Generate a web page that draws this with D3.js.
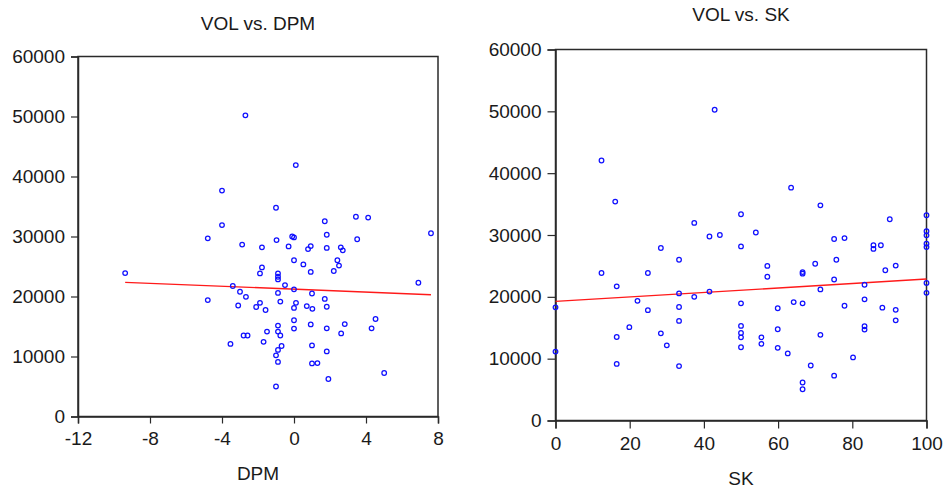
<!DOCTYPE html>
<html>
<head>
<meta charset="utf-8">
<script src="https://cdn.jsdelivr.net/npm/d3@7/dist/d3.min.js"></script>
<style>
  html, body { margin: 0; padding: 0; background: #fff; }
  svg { display: block; }
  text { font-family: "Liberation Sans", Arial, sans-serif; fill: #1a1a1a; }
</style>
</head>
<body>
<svg id="chart" width="946" height="494"></svg>
<script>
// VOL against DPM
const dpmX = [-2.7, 0.1, -4.0, -1.0, -4.0, 3.44, 4.12, 1.71, -4.79, 7.61, 1.82, 3.51, -2.88, -0.97,
  -0.1, 0.0, -1.78, -0.3, 0.78, 0.93, 1.82, 2.6, 2.71, 0.0, 2.41, 0.52, 2.5, -1.78, -1.89, -0.89,
  0.93, 2.21, -9.38, -0.89, -0.89, 6.91, -3.4, -0.5, 0.0, -3.0, -0.89, 1.0, -2.67, -4.79, 1.71,
  -3.1, -1.89, -0.76, 0.11, -2.1, -1.58, 0.0, 0.71, 1.02, 1.82, 4.53, 0.0, -0.89, 0.93, 2.82,
  0.0, 1.82, 4.31, -1.5, -0.89, -0.76, -2.8, -2.58, 2.62, -3.53, -1.69, -0.69, -0.89, 1.0, 1.82,
  -1.0, -0.89, 1.0, 1.3, 1.91, 5.01, -1.0];
const dpmVol = [50200, 41900, 37650, 34800, 31900, 33300, 33150, 32550, 29700, 30550, 30300, 29550, 28650, 29400,
  30000, 29850, 28200, 28350, 27900, 28400, 28100, 28200, 27700, 26050, 26050, 25350, 25150, 24850, 23850, 23850,
  24100, 24250, 23900, 23300, 22850, 22300, 21750, 21900, 21200, 20800, 20600, 20500, 19950, 19400, 19600,
  18500, 18950, 19150, 18950, 18250, 17750, 18100, 18400, 17950, 18300, 16250, 16050, 15150, 15350, 15400,
  14650, 14700, 14700, 14150, 14150, 13500, 13500, 13500, 13850, 12100, 12450, 11750, 11100, 11850, 10850,
  10200, 9100, 8850, 8900, 6250, 7250, 5000];

// VOL against SK
const skX = [42.9, 12.4, 16.1, 63.5, 71.4, 50.0, 100, 90.1, 37.4, 54.0, 44.3, 41.5, 100, 100, 100, 100,
  75.1, 77.9, 28.4, 50.0, 85.7, 85.7, 87.7, 33.3, 75.7, 70.0, 57.1, 91.7, 12.4, 24.9, 66.6, 66.6,
  88.9, 57.1, 75.1, 100, 16.5, 83.3, 71.4, 33.3, 41.5, 100, 37.4, 22.1, 83.3, 50.0, 64.2, 66.6,
  0, 33.3, 59.9, 77.9, 88.1, 91.7, 24.9, 33.3, 91.7, 19.9, 50.0, 83.3, 83.3, 59.9, 50.0, 50.0,
  16.5, 28.4, 55.5, 71.4, 55.5, 30.0, 50.0, 59.9, 0, 62.6, 80.2, 16.5, 33.3, 68.8, 75.1, 66.6, 66.6];
const skVol = [50250, 42050, 35400, 37650, 34800, 33350, 33200, 32550, 31950, 30400, 30000, 29750, 30600, 29950, 28600, 28050,
  29350, 29500, 27900, 28150, 28350, 27750, 28350, 26000, 26000, 25350, 25000, 25050, 23850, 23850, 24000, 23750,
  24300, 23250, 22800, 22250, 21700, 21950, 21200, 20550, 20850, 20650, 20000, 19350, 19600, 18950, 19150, 18950,
  18300, 18350, 18150, 18550, 18250, 17900, 17850, 16100, 16200, 15100, 15300, 15250, 14700, 14750, 14150, 13450,
  13500, 14100, 13450, 13850, 12400, 12150, 11850, 11750, 11150, 10850, 10200, 9150, 8800, 8900, 7250, 6150, 5050];

// Least-squares fit lines (intercept, slope)
const dpmFit = [21220, -121];
const skFit = [19260, 36.2];

// Axis ticks
const volTicks = [0, 10000, 20000, 30000, 40000, 50000, 60000];
const dpmTicks = [-12, -8, -4, 0, 4, 8];
const skTicks = [0, 20, 40, 60, 80, 100];

const svg = d3.select("#chart");
const plain = d => String(d);   // ASCII hyphen for negatives

function panel(cfg) {
  const { left, right, top, bottom, xDomain, xTicks, xs, ys, fit, title, xTitle, titleY, xTitleY } = cfg;
  const x = d3.scaleLinear().domain(xDomain).range([left, right]);
  const y = d3.scaleLinear().domain([0, 60000]).range([bottom, top]);
  const g = svg.append("g");

  // frame
  g.append("rect")
    .attr("x", left).attr("y", top)
    .attr("width", right - left).attr("height", bottom - top)
    .attr("fill", "none").attr("stroke", "#2a2a2a").attr("stroke-width", 1.5);

  const yAxis = g.append("g")
    .attr("transform", `translate(${left},0)`)
    .call(d3.axisLeft(y).tickValues(volTicks).tickFormat(plain).tickSize(cfg.tick).tickPadding(6));
  const xAxis = g.append("g")
    .attr("transform", `translate(0,${bottom})`)
    .call(d3.axisBottom(x).tickValues(xTicks).tickFormat(plain).tickSize(cfg.tick).tickPadding(8));
  [yAxis, xAxis].forEach(a => {
    a.select(".domain").attr("stroke", "#2a2a2a").attr("stroke-width", 1.5);
    a.selectAll(".tick line").attr("stroke", "#2a2a2a").attr("stroke-width", 1.2);
    a.selectAll(".tick text").attr("font-size", 19).attr("fill", "#1a1a1a")
      .style("font-family", '"Liberation Sans", Arial, sans-serif');
  });

  // fit line over the observed range
  const [x0, x1] = d3.extent(xs);
  g.append("line")
    .attr("x1", x(x0)).attr("y1", y(fit[0] + fit[1] * x0))
    .attr("x2", x(x1)).attr("y2", y(fit[0] + fit[1] * x1))
    .attr("stroke", "#ff1a1a").attr("stroke-width", 1.4);

  // observations
  g.append("g").selectAll("circle")
    .data(xs.map((v, i) => [v, ys[i]]))
    .join("circle")
    .attr("cx", d => x(d[0])).attr("cy", d => y(d[1]))
    .attr("r", 2.3)
    .attr("fill", "none").attr("stroke", "#1010ff").attr("stroke-width", 1.25);

  const cx = (left + right) / 2;
  g.append("text").attr("x", cx).attr("y", titleY).attr("text-anchor", "middle")
    .attr("font-size", 19).text(title);
  g.append("text").attr("x", cx).attr("y", xTitleY).attr("text-anchor", "middle")
    .attr("font-size", 19).text(xTitle);
}

panel({ left: 78, right: 438, top: 56.5, bottom: 416.5, xDomain: [-12, 8], xTicks: dpmTicks,
  xs: dpmX, ys: dpmVol, fit: dpmFit, title: "VOL vs. DPM", xTitle: "DPM", titleY: 29.5, xTitleY: 480, tick: 7 });
panel({ left: 555.5, right: 926.5, top: 49.5, bottom: 420.5, xDomain: [0, 100], xTicks: skTicks,
  xs: skX, ys: skVol, fit: skFit, title: "VOL vs. SK", xTitle: "SK", titleY: 21, xTitleY: 485, tick: 8 });
</script>
</body>
</html>
